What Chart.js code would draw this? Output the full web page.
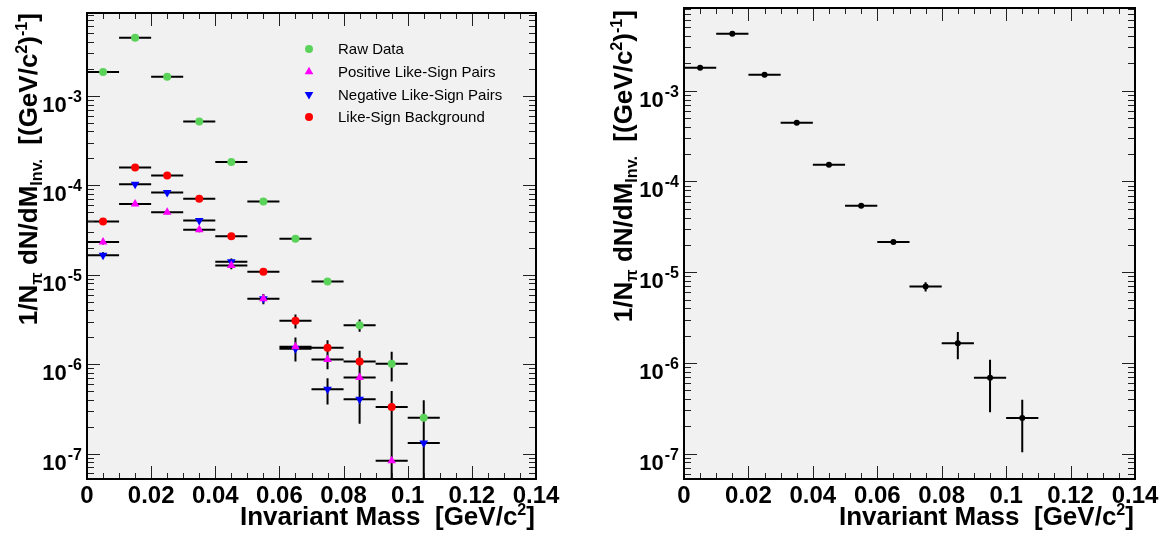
<!DOCTYPE html>
<html>
<head>
<meta charset="utf-8">
<script src="https://cdn.jsdelivr.net/npm/chart.js@4.4.0/dist/chart.umd.min.js"></script>
<style>
  body { margin:0; background:#fff; width:1169px; height:538px; position:relative; overflow:hidden; font-family:'Liberation Sans', Arial, sans-serif; }
  canvas { position:absolute; top:0; }
  #c1 { left:0; }
  #c2 { left:584px; }
  .xtitle, .ytitle { position:absolute; font-weight:bold; font-size:26px; line-height:26px; white-space:nowrap; text-align:right; color:#000; }
  .ytitle { width:460px; height:26px; transform:rotate(-90deg); }
  sup, sub { font-size:0.62em; position:relative; vertical-align:0; line-height:0; }
  sup { top:-0.62em; }
  sub { top:0.32em; }
</style>
</head>
<body>
<canvas id="c1" width="584" height="538"></canvas>
<canvas id="c2" width="585" height="538"></canvas>

<div class="ytitle" style="left:-202px; top:230px;">1/N<sub>π</sub> dN/dM<sub>Inv.</sub>&nbsp; [(GeV/c<sup>2</sup>)<sup>-1</sup>]</div>
<div class="ytitle" style="left:393px; top:227px;">1/N<sub>π</sub> dN/dM<sub>Inv.</sub>&nbsp; [(GeV/c<sup>2</sup>)<sup>-1</sup>]</div>
<div class="xtitle" style="right:634px; top:503px;">Invariant Mass&nbsp; [GeV/c<sup>2</sup>]</div>
<div class="xtitle" style="right:35px; top:503px;">Invariant Mass&nbsp; [GeV/c<sup>2</sup>]</div>

<script>
// centros de bin (ancho 0.01 GeV/c2)
const massBins = [0.005, 0.015, 0.025, 0.035, 0.045, 0.055, 0.065, 0.075, 0.085, 0.095, 0.105];
const binHalf = 0.005;

// panel izquierdo
const rawData    = [1.85e-3, 4.48e-3, 1.64e-3, 5.17e-4, 1.82e-4, 6.58e-5, 2.52e-5, 8.4e-6, 2.73e-6, 1.01e-6, 2.52e-7];
const rawErr     = [2e-5, 3e-5, 2e-5, 1e-5, 5e-6, 2e-6, 1e-6, 0.5e-6, 0.43e-6, 0.37e-6, 1.43e-7];
const posPairs   = [2.33e-5, 6.18e-5, 4.99e-5, 3.19e-5, 1.27e-5, 5.38e-6, 1.57e-6, 1.13e-6, 7.1e-7, 8.3e-8, null];
const posErr     = [1.5e-6, 3e-6, 2.5e-6, 2e-6, 1.2e-6, 0.7e-6, 0.42e-6, 0.25e-6, 0.3e-6, 0.9e-7, null];
const negPairs   = [1.65e-5, 1.03e-4, 8.33e-5, 4.03e-5, 1.40e-5, 5.4e-6, 1.49e-6, 5.24e-7, 4.05e-7, null, 1.31e-7];
const negErr     = [1.3e-6, 4e-6, 3.5e-6, 2.5e-6, 1.2e-6, 0.7e-6, 0.42e-6, 0.17e-6, 0.19e-6, null, 1.2e-7];
const background = [3.95e-5, 1.58e-4, 1.29e-4, 7.08e-5, 2.69e-5, 1.08e-5, 3.05e-6, 1.53e-6, 1.07e-6, 3.32e-7, null];
const bgErr      = [2e-6, 5e-6, 4.5e-6, 3.5e-6, 1.7e-6, 0.6e-6, 0.55e-6, 0.32e-6, 0.34e-6, 1.7e-7, null];

// panel derecho (señal)
const signal     = [1.79e-3, 4.25e-3, 1.5e-3, 4.44e-4, 1.53e-4, 5.4e-5, 2.15e-5, 6.95e-6, 1.65e-6, 6.86e-7, 2.48e-7];
const signalErr  = [2e-5, 3e-5, 2e-5, 1e-5, 5e-6, 2e-6, 1e-6, 0.8e-6, 0.55e-6, 4e-7, 1.44e-7];

// etiquetas de ejes
const xTickVals   = [0, 0.02, 0.04, 0.06, 0.08, 0.1, 0.12, 0.14];
const xTickLabels = ['0', '0.02', '0.04', '0.06', '0.08', '0.1', '0.12', '0.14'];
const yTickExps   = [-7, -6, -5, -4, -3];

const FONT = "'Liberation Sans', Arial, sans-serif";

function toPoints(vals, errs){
  const pts = [];
  vals.forEach((v, i) => { if(v != null) pts.push({ x: massBins[i], y: v, err: errs[i] || 0 }); });
  return pts;
}

// estilo tipo ROOT: fondo, barras de error, marco, ticks hacia dentro y leyenda
const rootStyle = {
  id: 'rootStyle',
  beforeDraw(chart){
    const { ctx, chartArea: a } = chart;
    ctx.save();
    ctx.fillStyle = '#f1f1f1';
    ctx.fillRect(a.left, a.top, a.right - a.left, a.bottom - a.top);
    ctx.restore();
  },
  beforeDatasetsDraw(chart){
    const { ctx, chartArea: a, scales: { x, y } } = chart;
    ctx.save();
    ctx.beginPath();
    ctx.rect(a.left, a.top, a.right - a.left, a.bottom - a.top);
    ctx.clip();
    ctx.strokeStyle = '#000';
    ctx.lineWidth = 2;
    ctx.beginPath();
    chart.data.datasets.forEach(ds => {
      ds.data.forEach(p => {
        const xp = x.getPixelForValue(p.x);
        const yp = y.getPixelForValue(p.y);
        ctx.moveTo(x.getPixelForValue(p.x - binHalf), yp);
        ctx.lineTo(x.getPixelForValue(p.x + binHalf), yp);
        if(p.err){
          const yHi = Math.max(y.getPixelForValue(p.y + p.err), a.top);
          const lo = p.y - p.err;
          const yLo = lo > y.min ? y.getPixelForValue(lo) : a.bottom;
          ctx.moveTo(xp, yHi);
          ctx.lineTo(xp, yLo);
        }
      });
    });
    ctx.stroke();
    ctx.restore();
  },
  afterDatasetsDraw(chart, args, opts){
    const { ctx, chartArea: a, scales: { x, y } } = chart;
    ctx.save();
    // ticks
    ctx.strokeStyle = '#222';
    ctx.lineWidth = 1;
    ctx.beginPath();
    for(let k = 0; k <= 28; k++){
      const px = Math.round(x.getPixelForValue(k * 0.005)) + 0.5;
      const len = k % 4 === 0 ? 13 : 6;
      ctx.moveTo(px, a.bottom); ctx.lineTo(px, a.bottom - len);
      ctx.moveTo(px, a.top); ctx.lineTo(px, a.top + len);
    }
    for(let e = -9; e <= -1; e++){
      for(let m = 1; m <= 9; m++){
        const v = m * Math.pow(10, e);
        if(v < y.min || v > y.max) continue;
        const py = Math.round(y.getPixelForValue(v)) + 0.5;
        const len = m === 1 ? 13 : 7;
        ctx.moveTo(a.left, py); ctx.lineTo(a.left + len, py);
        ctx.moveTo(a.right, py); ctx.lineTo(a.right - len, py);
      }
    }
    ctx.stroke();
    // marco
    ctx.strokeStyle = '#000';
    ctx.lineWidth = 2;
    ctx.strokeRect(a.left, a.top, a.right - a.left, a.bottom - a.top);

    // etiquetas eje x
    ctx.fillStyle = '#000';
    ctx.font = 'bold 24px ' + FONT;
    ctx.textAlign = 'center';
    ctx.textBaseline = 'alphabetic';
    xTickVals.forEach((v, i) => ctx.fillText(xTickLabels[i], x.getPixelForValue(v), a.bottom + 24));

    // etiquetas eje y: 10^n
    yTickExps.forEach(e => {
      const py = y.getPixelForValue(Math.pow(10, e));
      const sup = String(e);
      ctx.font = 'bold 16px ' + FONT;
      const supW = ctx.measureText(sup).width;
      const xEnd = a.left - 5;
      ctx.textAlign = 'left';
      ctx.fillText(sup, xEnd - supW, py + 6);
      ctx.font = 'bold 22px ' + FONT;
      ctx.textAlign = 'right';
      ctx.fillText('10', xEnd - supW - 1, py + 16);
    });

    // leyenda
    if(opts && opts.legend){
      chart.data.datasets.forEach((ds, i) => {
        const ly = 49 + i * 22.7;
        ctx.fillStyle = ds.backgroundColor;
        Chart.helpers.drawPoint(ctx, { pointStyle: ds.pointStyle, radius: ds.pointRadius, rotation: ds.pointRotation || 0, borderWidth: 0 }, 309, ly);
        ctx.fillStyle = '#000';
        ctx.font = '15px ' + FONT;
        ctx.textAlign = 'left';
        ctx.textBaseline = 'middle';
        ctx.fillText(ds.label, 338, ly + 1);
      });
    }
    ctx.restore();
  }
};

function makeDataset(label, pts, color, style, radius, rotation){
  return {
    label, data: pts,
    backgroundColor: color, borderColor: color,
    pointStyle: style, pointRadius: radius, pointRotation: rotation || 0,
    pointBorderWidth: 0, pointHoverRadius: radius,
    showLine: false
  };
}

function baseOptions(pad, yMin, yMax, legend){
  return {
    responsive: false,
    animation: false,
    layout: { padding: pad },
    scales: {
      x: { type: 'linear', min: 0, max: 0.14, display: false },
      y: { type: 'logarithmic', min: yMin, max: yMax, display: false }
    },
    plugins: {
      legend: { display: false },
      tooltip: { enabled: false },
      rootStyle: { legend }
    }
  };
}

new Chart(document.getElementById('c1'), {
  type: 'scatter',
  data: {
    datasets: [
      makeDataset('Raw Data', toPoints(rawData, rawErr), '#5bd35b', 'circle', 4),
      makeDataset('Positive Like-Sign Pairs', toPoints(posPairs, posErr), '#ff00ff', 'triangle', 5),
      makeDataset('Negative Like-Sign Pairs', toPoints(negPairs, negErr), '#0000ff', 'triangle', 5, 180),
      makeDataset('Like-Sign Background', toPoints(background, bgErr), '#ff0000', 'circle', 4)
    ]
  },
  options: baseOptions({ left: 87, top: 13, right: 48, bottom: 59 }, 5.2e-8, 8.45e-3, true),
  plugins: [rootStyle]
});

new Chart(document.getElementById('c2'), {
  type: 'scatter',
  data: {
    datasets: [
      makeDataset('Signal', toPoints(signal, signalErr), '#000000', 'circle', 3)
    ]
  },
  options: baseOptions({ left: 100, top: 8, right: 34, bottom: 59 }, 5.26e-8, 8.17e-3, false),
  plugins: [rootStyle]
});
</script>
</body>
</html>
